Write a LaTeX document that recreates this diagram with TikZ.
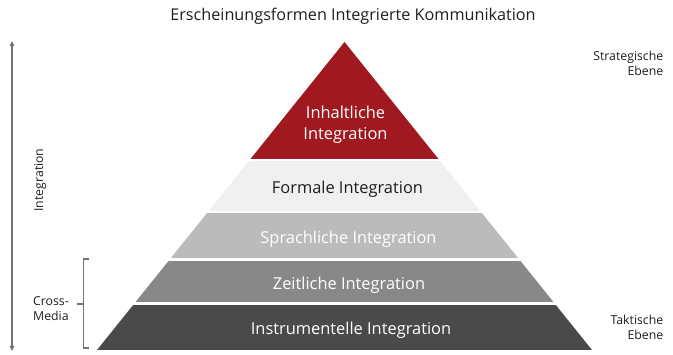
\documentclass[tikz,border=0pt]{standalone}
\usepackage{fontspec}
\setmainfont{Open Sans}
\usetikzlibrary{arrows.meta, calc}
\definecolor{inhalt}{RGB}{160,25,33}
\definecolor{formal}{RGB}{240,240,240}
\definecolor{sprach}{RGB}{187,187,187}
\definecolor{zeit}{RGB}{136,136,136}
\definecolor{instr}{RGB}{74,74,74}
\definecolor{txt}{RGB}{30,30,30}
\definecolor{axis}{RGB}{115,115,115}
\tikzset{%
    tit/.style={font=\fontsize{16.2}{19}\selectfont, text=txt},
    lvl/.style={font=\fontsize{16.4}{21}\selectfont, text=white, align=center, inner sep=0pt},
    sid/.style={font=\fontsize{12.3}{15}\selectfont, text=txt, inner sep=0pt},
    arr/.style={line width=1.2pt, draw=axis, {Triangle[length=5pt,width=4.5pt]}-{Triangle[length=5pt,width=4.5pt]}},
    brk/.style={line width=1.1pt, draw=axis},
}

\begin{document}
\begin{tikzpicture}[x=1pt, y=-1pt]
    \useasboundingbox (0,0) rectangle (673,355);
    \coordinate (A) at (344.5,42);
    \coordinate (BL) at (97,350);
    \coordinate (BR) at (592,350);
    % pyramid bands
    \begin{scope}
        \clip (A) -- (BL) -- (BR) -- cycle;
        \fill [inhalt] (0,40) rectangle (673,159);
        \fill [formal] (0,161.5) rectangle (673,211);
        \fill [sprach] (0,213.5) rectangle (673,258.5);
        \fill [zeit] (0,261) rectangle (673,302);
        \fill [instr] (0,305) rectangle (673,350);
    \end{scope}
    \node (t) [tit] at (353,16) {Erscheinungsformen Integrierte Kommunikation};
    \node (l1) [lvl] at (345.5,124.5) {Inhaltliche\\Integration};
    \node (l2) [lvl, text=txt] at (347.5,189) {Formale Integration};
    \node (l3) [lvl] at (348.5,239) {Sprachliche Integration};
    \node (l4) [lvl] at (349,285) {Zeitliche Integration};
    \node (l5) [lvl] at (351,330) {Instrumentelle Integration};
    % left axis
    \coordinate (a1) at (12,41);
    \coordinate (a2) at (12,351);
    \draw [arr] (a1) -- (a2);
    \node (int) [sid, rotate=90] at (40,180) {Integration};
    \coordinate (b1) at (89,259);
    \coordinate (b2) at (89,348);
    \draw [brk] (b1) -| (83.5,348) -- (b2);
    \draw [brk] (83.5,304) -- (77,304);
    \node (cm) [sid, anchor=east, align=left] at (69,309) {Cross-\\Media};
    % right labels
    \node (se) [sid, anchor=north east, align=right] at (663.5,51) {Strategische\\Ebene};
    \node (te) [sid, anchor=north east, align=right] at (663.5,315) {Taktische\\Ebene};
\end{tikzpicture}
\end{document}
